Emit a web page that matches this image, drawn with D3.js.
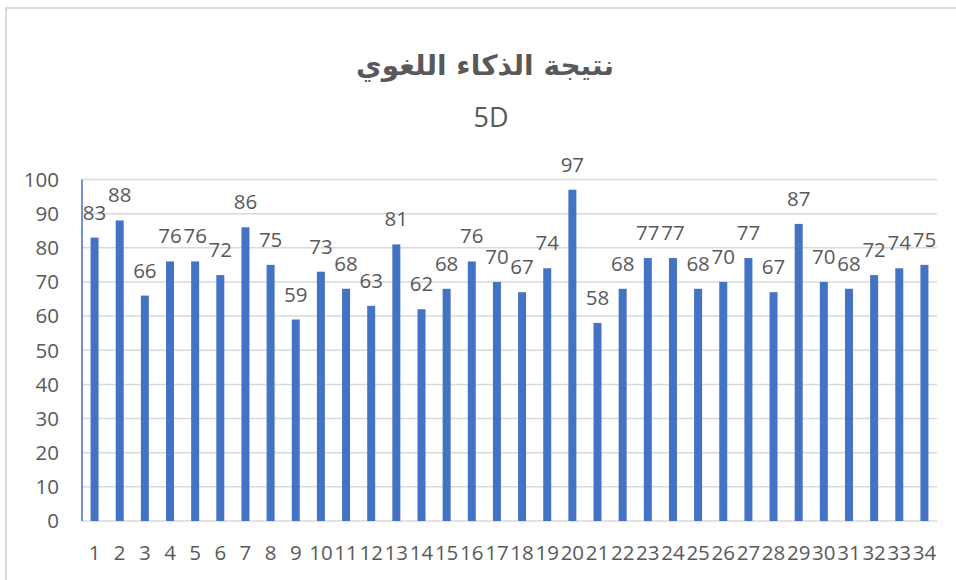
<!DOCTYPE html>
<html lang="ar">
<head>
    <meta charset="utf-8">
    <title>نتيجة الذكاء اللغوي</title>
    <script src="https://cdn.jsdelivr.net/npm/d3@7"></script>
    <style>
        body { margin: 0; background: #fff; }
        svg { display: block; }
    </style>
</head>
<body>
    <script>
        // data
        var categories = d3.range(1, 35).map(String);
        var scores = [83, 88, 66, 76, 76, 72, 86, 75, 59, 73, 68, 63, 81, 62, 68, 76, 70,
            67, 74, 97, 58, 68, 77, 77, 68, 70, 77, 67, 87, 70, 68, 72, 74, 75];
        var yTicks = [0, 10, 20, 30, 40, 50, 60, 70, 80, 90, 100];
        var titleText = "نتيجة الذكاء اللغوي";
        var subtitleText = "5D";

        var width = 956, height = 580;
        var plotLeft = 82, plotRight = 937, plotTop = 179.5, plotBottom = 521;
        var textColor = "#595959";
        var font = "'Open Sans', 'DejaVu Sans', sans-serif";
        var fontSize = 20.5;

        var svg = d3.select("body")
            .append("svg")
            .attr("width", width)
            .attr("height", height);

        // chart border
        svg.append("rect")
            .attr("x", 6)
            .attr("y", 8)
            .attr("width", width)
            .attr("height", height)
            .attr("fill", "none")
            .attr("stroke", "#d9d9d9")
            .attr("stroke-width", 2);

        var x = d3.scaleBand()
            .domain(categories)
            .range([plotLeft, plotRight])
            .padding(0);

        var y = d3.scaleLinear()
            .domain([0, 100])
            .range([plotBottom, plotTop]);

        // gridlines
        svg.append("g")
            .selectAll("line")
            .data(yTicks)
            .enter()
            .append("line")
            .attr("x1", plotLeft)
            .attr("x2", plotRight)
            .attr("y1", function (d) { return y(d); })
            .attr("y2", function (d) { return y(d); })
            .attr("stroke", "#d9d9d9")
            .attr("stroke-width", 1.5);

        // y axis labels
        svg.append("g")
            .selectAll("text")
            .data(yTicks)
            .enter()
            .append("text")
            .attr("x", 59)
            .attr("y", function (d) { return y(d); })
            .attr("dy", "0.36em")
            .attr("text-anchor", "end")
            .attr("font-family", font)
            .attr("font-size", fontSize)
            .attr("fill", textColor)
            .text(function (d) { return d; });

        // blue axis line on the left
        svg.append("line")
            .attr("x1", plotLeft)
            .attr("x2", plotLeft)
            .attr("y1", plotTop)
            .attr("y2", plotBottom)
            .attr("stroke", "#4472c4")
            .attr("stroke-width", 1.5);

        var barW = 8;

        svg.append("g")
            .selectAll("rect")
            .data(scores)
            .enter()
            .append("rect")
            .attr("x", function (d, i) { return x(categories[i]) + x.bandwidth() / 2 - barW / 2; })
            .attr("y", function (d) { return y(d); })
            .attr("width", barW)
            .attr("height", function (d) { return y(0) - y(d); })
            .attr("fill", "#4472c4");

        // value labels
        svg.append("g")
            .selectAll("text")
            .data(scores)
            .enter()
            .append("text")
            .attr("x", function (d, i) { return x(categories[i]) + x.bandwidth() / 2; })
            .attr("y", function (d) { return y(d) - 18; })
            .attr("text-anchor", "middle")
            .attr("font-family", font)
            .attr("font-size", fontSize)
            .attr("fill", textColor)
            .text(function (d) { return d; });

        // category labels
        svg.append("g")
            .selectAll("text")
            .data(categories)
            .enter()
            .append("text")
            .attr("x", function (d) { return x(d) + x.bandwidth() / 2; })
            .attr("y", 560)
            .attr("text-anchor", "middle")
            .attr("font-family", font)
            .attr("font-size", fontSize)
            .attr("fill", textColor)
            .text(function (d) { return d; });

        // titles
        svg.append("text")
            .attr("x", 485)
            .attr("y", 75)
            .attr("text-anchor", "middle")
            .attr("direction", "rtl")
            .attr("font-family", "'DejaVu Sans', sans-serif")
            .attr("font-weight", "bold")
            .attr("font-size", 28)
            .attr("fill", textColor)
            .text(titleText);

        svg.append("text")
            .attr("x", 491)
            .attr("y", 127)
            .attr("text-anchor", "middle")
            .attr("font-family", font)
            .attr("font-size", 27)
            .attr("fill", textColor)
            .text(subtitleText);
    </script>
</body>
</html>
